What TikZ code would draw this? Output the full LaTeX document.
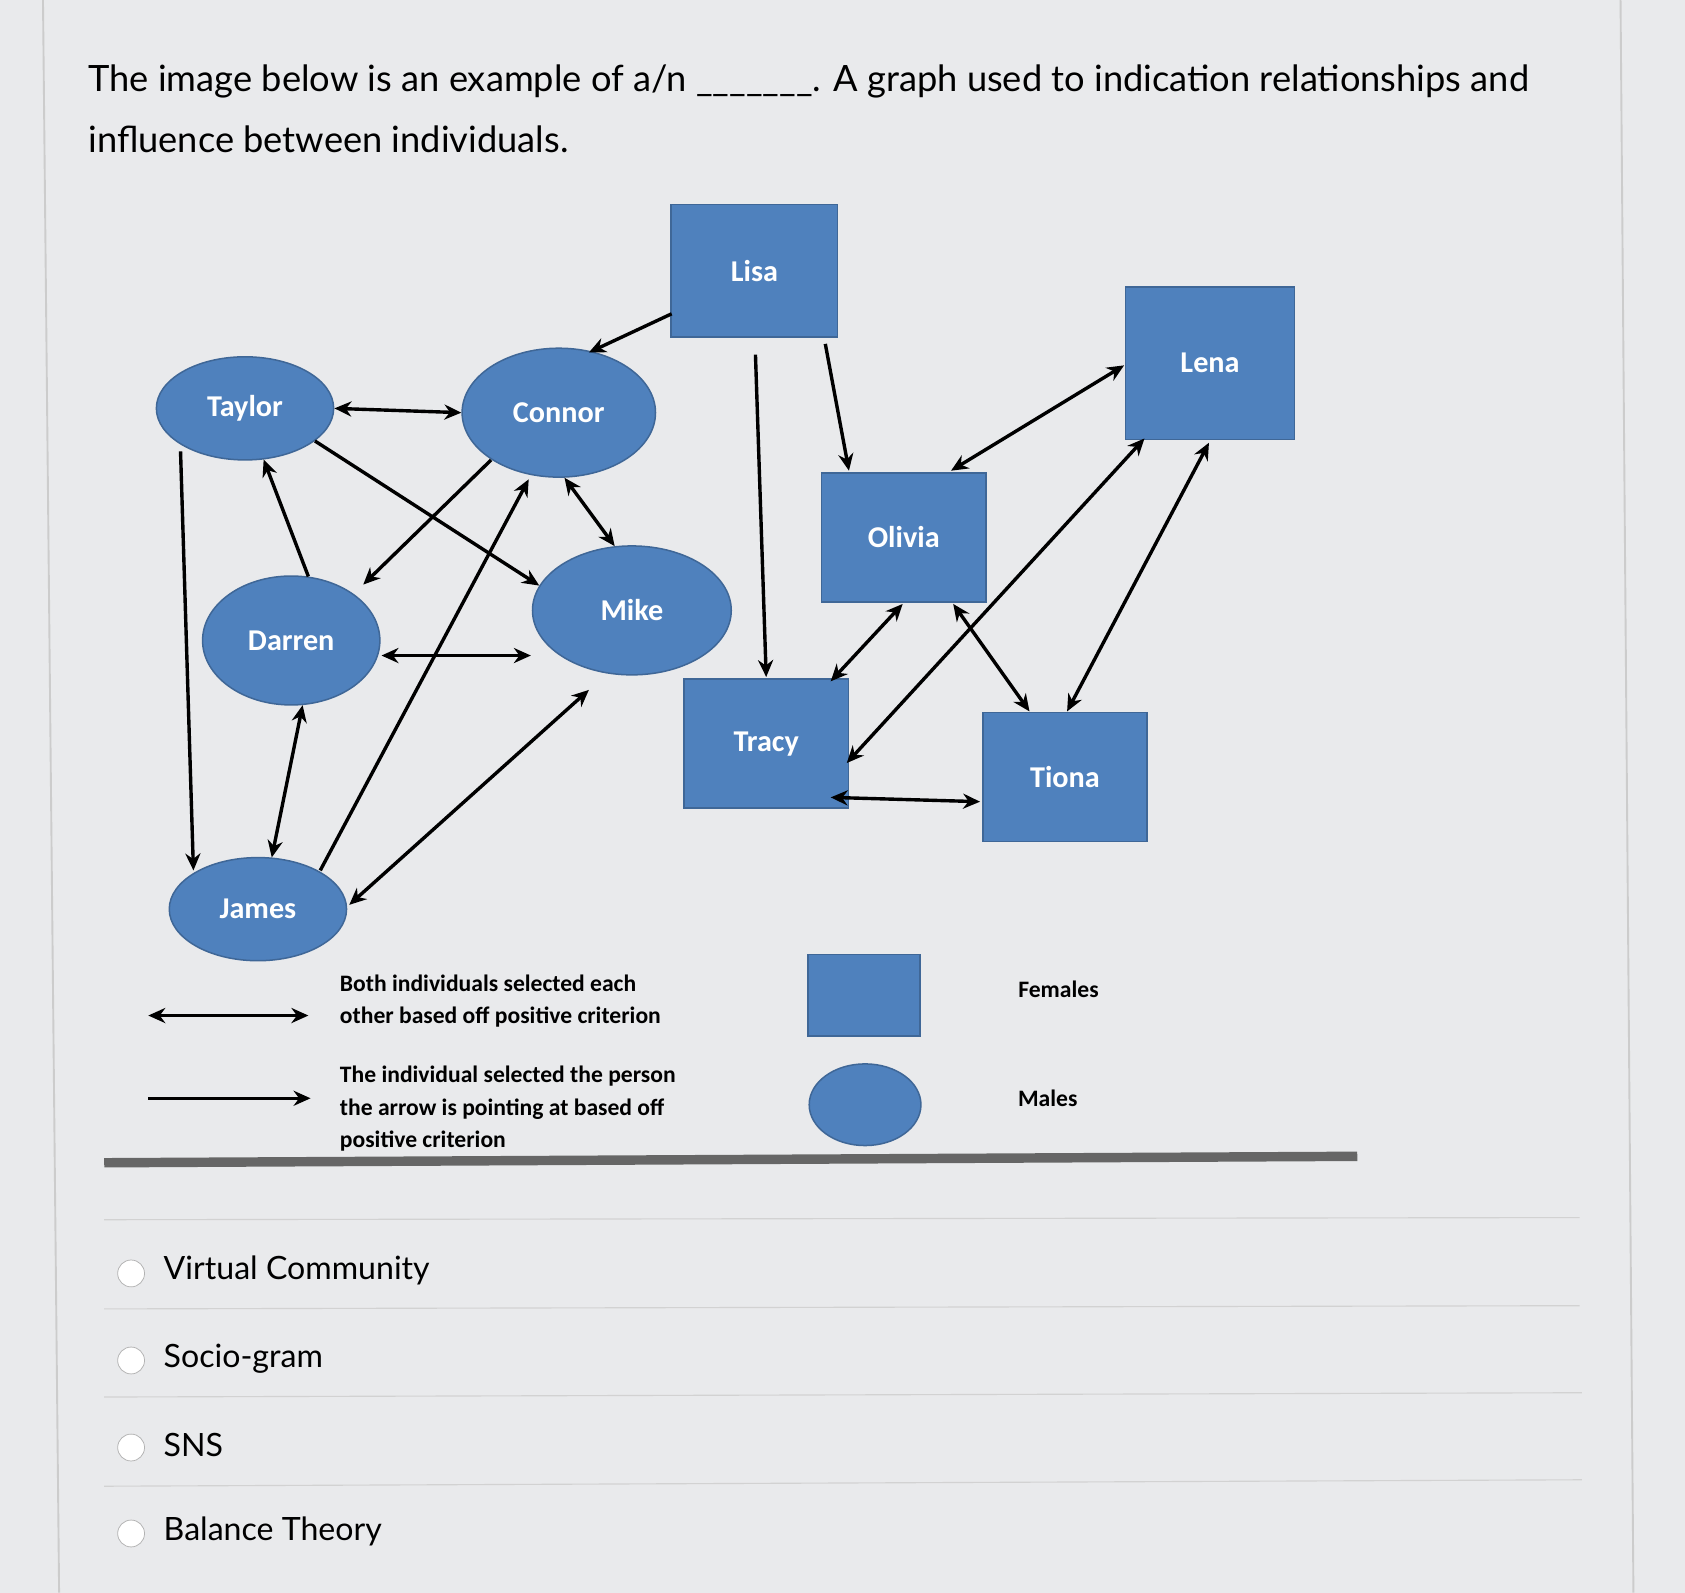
\documentclass[tikz,border=0pt]{standalone}
\usepackage{fontspec}
\setmainfont{Lato}
\newfontfamily\carlitofont{Carlito}
\usetikzlibrary{arrows.meta,shapes.geometric}
\definecolor{nb}{HTML}{4F81BD}
\definecolor{bg}{HTML}{E9EAEC}
\begin{document}
\begin{tikzpicture}[x=0.02cm,y=-0.02cm,
 person/.style={fill=nb,draw=nb!80!black,line width=0.8pt,text=white,font=\carlitofont\bfseries\fontsize{16}{18}\selectfont},
 fem/.style={person,rectangle,minimum width=3.06cm,minimum height=2.4cm},
 mal/.style={person,ellipse},
 one/.style={-{Stealth[length=9pt,width=8pt]},line width=1.8pt},
 two/.style={{Stealth[length=9pt,width=8pt]}-{Stealth[length=9pt,width=8pt]},line width=1.8pt},
 leg/.style={font=\carlitofont\bfseries\fontsize{12.5}{17}\selectfont,align=left,anchor=north west,inner sep=0pt},
 q/.style={font=\fontsize{19.2}{32}\selectfont,anchor=west,inner sep=0pt},
 opt/.style={font=\fontsize{17}{20}\selectfont,anchor=west,inner sep=0pt},
 radio/.style={draw=gray!60,fill=white,circle,minimum size=0.5cm,inner sep=0pt},
 sep/.style={draw=gray!35,line width=0.6pt}]
\useasboundingbox (0,0) rectangle (1568,1482);
\fill[bg] (0,0) rectangle (1568,1482);
\draw[gray!40,line width=1pt] (40,0) -- (55,1482);
\draw[gray!40,line width=1pt] (1508,0) -- (1520,1482);
\node[q] (q1) at (82,76) {The image below is an example of a/n \_\_\_\_\_\_\_. A graph used to indication relationships and};
\node[q] (q2) at (82,130) {influence between individuals.};
% females
\node[fem,minimum width=3.1cm,minimum height=2.46cm] (lisa) at (702,252) {Lisa};
\node[fem,minimum width=3.14cm,minimum height=2.84cm] (lena) at (1126,338) {Lena};
\node[fem] (olivia) at (841,500) {Olivia};
\node[fem] (tracy) at (713,692) {Tracy};
\node[fem] (tiona) at (991,723) {Tiona};
% males
\node[mal,minimum width=3.3cm,minimum height=1.92cm] (taylor) at (228,380) {Taylor};
\node[mal,minimum width=3.6cm,minimum height=2.4cm] (connor) at (520,384) {Connor};
\node[mal,minimum width=3.7cm,minimum height=2.4cm] (mike) at (588,568) {Mike};
\node[mal,minimum width=3.3cm,minimum height=2.4cm] (darren) at (271,596) {Darren};
\node[mal,minimum width=3.3cm,minimum height=1.92cm] (james) at (240,846) {James};
% edge end points
\coordinate (ta) at (168,420); \coordinate (jb) at (180,810);
\coordinate (cd1) at (457,428); \coordinate (cd2) at (338,544);
\coordinate (dm1) at (355,610); \coordinate (dm2) at (494,610);
\coordinate (jm1) at (325,842); \coordinate (jm2) at (548,642);
\coordinate (jc1) at (298,810); \coordinate (jc2) at (492,446);
\coordinate (l1) at (703,330); \coordinate (t1) at (713,630);
\coordinate (l2) at (768,320); \coordinate (o1) at (790,438);
\coordinate (ol1) at (885,438); \coordinate (ol2) at (1046,340);
\coordinate (lt1) at (1065,408); \coordinate (lt2) at (788,710);
\coordinate (lti1) at (1125,412); \coordinate (lti2) at (993,662);
\coordinate (tt1) at (773,742); \coordinate (tt2) at (912,746);
\coordinate (ot1) at (840,562); \coordinate (ot2) at (773,634);
\coordinate (oti1) at (887,562); \coordinate (oti2) at (958,662);
\coordinate (lc1) at (625,292); \coordinate (lc2) at (548,328);
% edges
\draw[one] (lc1) -- (lc2);
\draw[two] (taylor.east) -- (connor.west);
\draw[one] (ta) -- (jb);
\draw[one] (darren.75) -- (taylor.-70);
\draw[one] (taylor.-25) -- (mike.165);
\draw[one] (cd1) -- (cd2);
\draw[two] (connor.-85) -- (mike.105);
\draw[two] (dm1) -- (dm2);
\draw[two] (darren.-80) -- (james.75);
\draw[one] (jc1) -- (jc2);
\draw[two] (jm1) -- (jm2);
\draw[one] (l1) -- (t1);
\draw[one] (l2) -- (o1);
\draw[two] (ol1) -- (ol2);
\draw[two] (ot1) -- (ot2);
\draw[two] (oti1) -- (oti2);
\draw[two] (lt1) -- (lt2);
\draw[two] (lti1) -- (lti2);
\draw[two] (tt1) -- (tt2);
% legend
\coordinate (a1) at (138,945); \coordinate (a2) at (287,945);
\draw[two] (a1) -- (a2);
\coordinate (b1) at (138,1022); \coordinate (b2) at (289,1022);
\draw[one] (b1) -- (b2);
\node[leg] (t1l) at (316,907) {Both individuals selected each\\other based off positive criterion};
\node[leg] (t2l) at (316,992) {The individual selected the person\\the arrow is pointing at based off\\positive criterion};
\node[fem,minimum width=2.08cm,minimum height=1.52cm] (lf) at (804,926) {};
\node[mal,minimum width=2.08cm,minimum height=1.52cm] (lm) at (805,1028) {};
\node[leg,anchor=center] (fl) at (985,921) {Females};
\node[leg,anchor=center] (ml) at (975,1022) {Males};
\draw[gray!80!black,line width=5pt] (97,1082) -- (1263,1076);
% options
\draw[sep] (97,1135) -- (1470,1133);
\draw[sep] (97,1218) -- (1470,1215);
\draw[sep] (97,1300) -- (1472,1296);
\draw[sep] (97,1383) -- (1472,1377);
\node[radio] (r1) at (122,1185) {}; \node[opt] (o1t) at (152,1182) {Virtual Community};
\node[radio] (r2) at (122,1266) {}; \node[opt] (o2t) at (152,1264) {Socio-gram};
\node[radio] (r3) at (122,1347) {}; \node[opt] (o3t) at (152,1345) {SNS};
\node[radio] (r4) at (122,1427) {}; \node[opt] (o4t) at (152,1425) {Balance Theory};
\end{tikzpicture}
\end{document}
